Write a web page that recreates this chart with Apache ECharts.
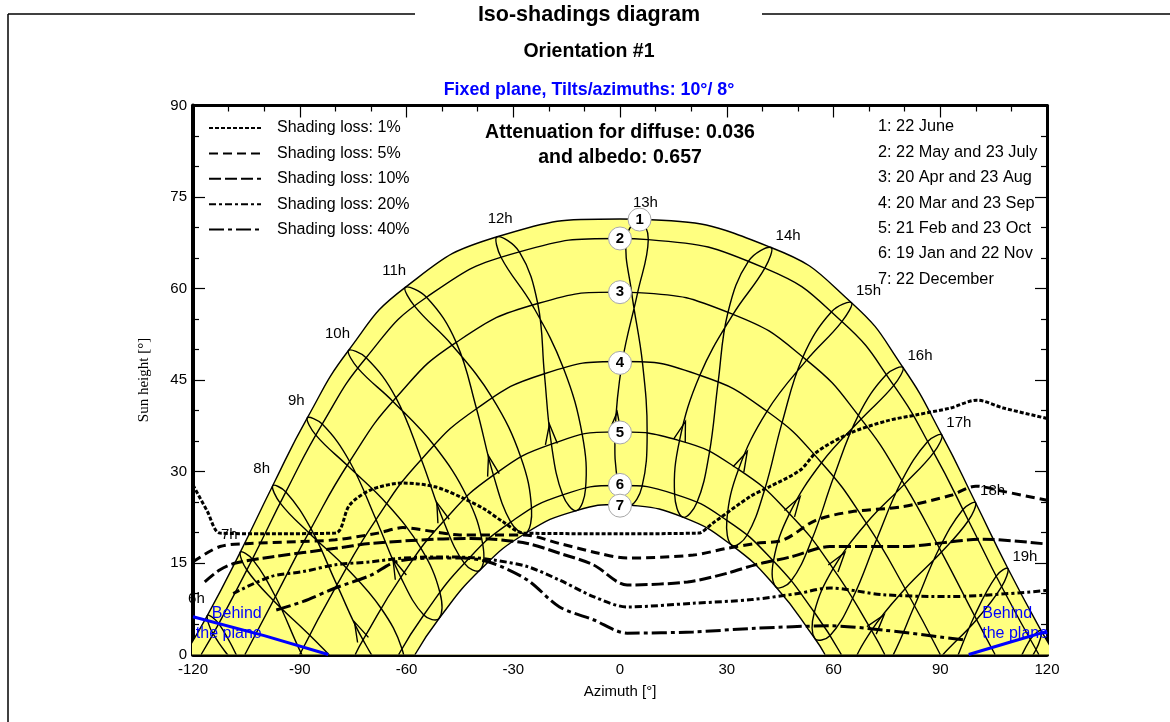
<!DOCTYPE html>
<html>
<head>
<meta charset="utf-8">
<title>Iso-shadings diagram</title>
<script src="https://cdn.jsdelivr.net/npm/echarts@6/dist/echarts.min.js"></script>
<style>
  html, body { margin: 0; padding: 0; background: #fff; }
  #chart { width: 1170px; height: 722px; }
</style>
</head>
<body>
<div id="chart"></div>
<script>
// ---- Sun positions [azimuth °, height °] at legal hours 6h .. 20h (null = far below horizon)
const hours = [6, 7, 8, 9, 10, 11, 12, 13, 14, 15, 16, 17, 18, 19, 20];
const hourLabels = ['6h', '7h', '8h', '9h', '10h', '11h', '12h', '13h', '14h', '15h', '16h', '17h', '18h', '19h'];

const jun22 = [[-115.94, 6.41], [-106.71, 16.78], [-97.61, 27.67], [-87.88, 38.79], [-76.31, 49.83], [-60.35, 60.18], [-34.52, 68.48], [5.46, 71.35], [42.45, 66.72], [65.06, 57.67], [79.53, 47.05], [90.46, 35.97], [99.94, 24.87], [109.01, 14.10], [118.37, 3.90]];
const may22 = [[-112.75, 5.05], [-103.32, 15.63], [-93.91, 26.65], [-83.69, 37.77], [-71.35, 48.65], [-54.37, 58.57], [-28.28, 66.00], [7.95, 68.02], [40.70, 63.34], [62.35, 54.58], [76.94, 44.11], [88.16, 33.09], [97.92, 21.97], [107.26, 11.11], [116.89, 0.78]];
const jul23 = [[-114.34, 3.37], [-104.85, 13.85], [-95.48, 24.82], [-85.47, 35.96], [-73.62, 46.91], [-57.68, 57.06], [-33.40, 65.08], [1.78, 68.20], [36.12, 64.48], [59.45, 56.18], [74.86, 45.89], [86.47, 34.92], [96.37, 23.78], [105.72, 12.86], [115.26, 2.42]];
const apr20 = [[-106.73, -1.40], [-96.84, 9.50], [-86.86, 20.63], [-75.98, 31.64], [-62.96, 42.08], [-46.03, 51.17], [-23.12, 57.54], [4.96, 59.32], [31.76, 55.76], [52.45, 48.26], [67.78, 38.59], [79.89, 27.89], [90.35, 16.79], [100.21, 5.71], [110.26, -5.03]];
const aug23 = [[-107.33, -2.03], [-97.41, 8.86], [-87.46, 19.97], [-76.66, 31.01], [-63.81, 41.49], [-47.18, 50.70], [-24.64, 57.28], [3.27, 59.37], [30.35, 56.10], [51.40, 48.78], [66.99, 39.19], [79.23, 28.53], [89.76, 17.45], [99.64, 6.35], [109.65, -4.42]];
const mar20 = [[-99.86, -10.78], [-89.71, 0.32], [-79.55, 11.41], [-68.56, 22.12], [-55.83, 31.98], [-40.32, 40.29], [-21.25, 46.03], [0.65, 48.03], [22.44, 45.78], [41.31, 39.87], [56.63, 31.44], [69.23, 21.52], [80.14, 10.78], [90.29, -0.32], null];
const sep23 = [[-97.24, -7.98], [-87.17, 3.14], [-76.87, 14.17], [-65.54, 24.72], [-52.21, 34.26], [-35.84, 42.03], [-15.89, 46.93], [6.31, 47.85], [27.56, 44.58], [45.51, 37.93], [60.03, 29.04], [72.11, 18.86], [82.76, 7.98], [92.83, -3.14], null];
const feb21 = [null, [-82.14, -8.48], [-72.22, 2.39], [-61.59, 12.64], [-49.58, 21.84], [-35.57, 29.40], [-19.28, 34.48], [-1.36, 36.49], [16.72, 35.07], [33.29, 30.34], [47.62, 23.09], [59.89, 14.09], [70.69, 3.96], [80.67, -6.84], null];
const oct23 = [null, [-77.29, -3.07], [-67.11, 7.54], [-55.88, 17.34], [-42.97, 25.83], [-27.85, 32.31], [-10.57, 35.92], [7.63, 36.18], [25.10, 33.03], [40.67, 27.06], [53.92, 18.84], [65.38, 9.22], [75.69, -1.30], [85.51, -12.29], null];
const jan19 = [null, [-74.86, -13.68], [-65.37, -3.20], [-55.15, 6.48], [-43.72, 14.95], [-30.71, 21.71], [-16.09, 26.16], [-0.39, 27.70], [15.34, 26.30], [30.02, 21.99], [43.12, 15.33], [54.61, 6.93], [64.89, -2.70], null, null];
const nov22 = [null, [-70.99, -9.27], [-61.28, 0.93], [-50.61, 10.17], [-38.56, 18.00], [-24.86, 23.89], [-9.69, 27.13], [6.17, 27.47], [21.59, 24.88], [35.65, 19.51], [48.06, 12.05], [58.99, 3.09], [68.89, -6.93], null, null];
const dec22 = [null, null, [-61.06, -3.33], [-50.85, 5.91], [-39.41, 13.81], [-26.50, 19.88], [-12.24, 23.59], [2.80, 24.51], [17.65, 22.52], [31.46, 17.88], [43.82, 11.07], [54.76, 2.62], [64.61, -7.00], null, null];

// ---- The seven sun paths: horizon azimuth and noon height
const pathDates = ['1: 22 June', '2: 22 May and 23 July', '3: 20 Apr and 23 Aug', '4: 20 Mar and 23 Sep', '5: 21 Feb and 23 Oct', '6: 19 Jan and 22 Nov', '7: 22 December'];
const pathRiseAz = [122.4, 117.7, 105.4, 90.0, 74.4, 62.2, 57.6];
const pathNoonH = [71.4, 68.2, 59.4, 48.0, 36.5, 27.7, 24.6];

// ---- Numbered path markers
const markerLabels = ['1', '2', '3', '4', '5', '6', '7'];
const markerAz = [5.5, 0, 0, 0, 0, 0, 0];
const markerH = [71.3, 68.2, 59.4, 47.8, 36.4, 27.8, 24.4];

// ---- Iso-shading curves [azimuth °, height °]
const isoNames = ['Shading loss: 1%', 'Shading loss: 5%', 'Shading loss: 10%', 'Shading loss: 20%', 'Shading loss: 40%'];
const iso1 = [[-120, 27.8], [-116, 23.5], [-112.4, 19.9], [-100, 19.8], [-80, 19.9], [-76, 24.5], [-70, 27.0], [-61, 28.1], [-52, 27.5], [-44, 25.6], [-38, 23.8], [-33, 21.8], [-27, 19.9], [0, 19.8], [22, 19.9], [26, 21.5], [36.6, 25.9], [42, 27.5], [50.6, 30.2], [55.3, 33.2], [64.7, 36.3], [75, 38.3], [83.4, 39.3], [92.8, 40.4], [100.3, 41.7], [107.8, 40.4], [120, 38.7]];
const iso5 = [[-120, 15.2], [-112.4, 17.7], [-104, 18.2], [-91, 18.5], [-80, 18.8], [-68, 19.9], [-61, 20.8], [-52, 20.1], [-45, 19.6], [-27, 19.6], [-17, 18.2], [-6, 16.6], [2, 15.8], [20.6, 16.3], [30, 17.4], [38, 18.2], [46, 18.8], [55, 22.0], [65, 23.4], [79, 24.2], [93, 26.1], [100, 27.6], [108, 26.7], [120, 25.3]];
const iso10 = [[-116.7, 11.9], [-112.4, 13.9], [-108, 15.0], [-98, 16.0], [-80, 17.4], [-70, 18.2], [-52, 18.9], [-42, 19.0], [-35.6, 18.9], [-26, 18.2], [-17, 16.6], [-7.5, 14.7], [2, 11.4], [19, 11.9], [30, 13.3], [38, 14.7], [48, 16.0], [59, 17.7], [79, 17.7], [102, 18.9], [120, 18.1]];
const iso20 = [[-108.7, 10.0], [-98, 12.8], [-89, 13.6], [-80, 14.7], [-70, 15.2], [-61, 15.8], [-51, 16.0], [-42, 15.9], [-35.6, 15.5], [-26, 14.4], [-17, 12.2], [-7.5, 9.5], [2, 7.8], [20.6, 8.4], [37, 9.0], [50, 10.0], [59, 10.9], [74, 9.8], [93, 9.5], [120, 10.5]];
const iso40 = [[-96.6, 7.3], [-89, 8.7], [-80, 10.9], [-70, 13.0], [-63, 15.2], [-52, 15.8], [-44, 15.8], [-36, 15.0], [-26, 12.2], [-17, 7.8], [-7.5, 5.7], [2, 3.5], [20.6, 3.7], [38, 4.3], [59, 4.7], [74, 4.0], [96.5, 2.4]];

// ---- Plane horizon (sun behind the collector plane)
const behindLeft = [[-120, 6.2], [-100, 3.1], [-82, 0]];
const behindRight = [[98, 0], [110, 2.1], [120, 3.8]];
const behindText = 'Behind\nthe plane';

// ---- Static texts
const titleText = 'Iso-shadings diagram';
const subtitleText = 'Orientation #1';
const planeText = 'Fixed plane, Tilts/azimuths: 10°/ 8°';
const attenuationText = ['Attenuation for diffuse: 0.036', 'and albedo: 0.657'];

// ======================================================================
const FONT = '"Liberation Sans", Arial, sans-serif';
const SERIF = '"Liberation Serif", "Times New Roman", serif';
const chart = echarts.init(document.getElementById('chart'));

const pathPoints = [jun22, may22, apr20, mar20, feb21, jan19, dec22];
// date order along each hour loop: June -> December -> June
const loopDates = [jun22, may22, apr20, mar20, feb21, jan19, dec22, nov22, oct23, sep23, aug23, jul23];

function pathCurve(k) {
  const pts = pathPoints[k].filter(p => p && p[1] >= 1.5).map(p => p.slice());
  if (!pts.some(p => Math.abs(p[0]) < 2)) pts.push([0, pathNoonH[k]]);
  pts.push([-pathRiseAz[k], 0], [pathRiseAz[k], 0]);
  pts.sort((a, b) => a[0] - b[0]);
  return pts;
}

function loopPoints(i) {
  const pts = loopDates.map(d => d[i]);
  const n = pts.length;
  if (pts.every(p => p)) return { closed: true, pts };
  const start = pts.findIndex((p, j) => p && !pts[(j - 1 + n) % n]);
  const run = [];
  for (let j = 0; j < n; j++) {
    const p = pts[(start + j) % n];
    if (!p) break;
    run.push(p);
  }
  return { closed: false, pts: run };
}

const LINE_W = 1.4;
const series = [];

// sun paths; the outer one carries the yellow band, the inner one masks it
pathPoints.forEach((d, k) => {
  const s = {
    type: 'line', data: pathCurve(k), smooth: 0.5,
    symbol: 'none', silent: true, z: 2,
    lineStyle: { color: '#000', width: LINE_W }
  };
  if (k === 0) s.areaStyle = { color: '#ffff80', opacity: 1 };
  if (k === 6) s.areaStyle = { color: '#ffffff', opacity: 1 };
  series.push(s);
});

// hour loops
series.push({
  type: 'custom', clip: true, silent: true, z: 3,
  data: hours.map(() => [0, 0]),
  renderItem(params, api) {
    const L = loopPoints(params.dataIndex);
    const pts = L.pts.map(p => api.coord(p));
    return {
      type: L.closed ? 'polygon' : 'polyline',
      shape: { points: pts, smooth: 0.4 },
      style: { fill: 'none', stroke: '#000', lineWidth: LINE_W }
    };
  }
});

// time-direction arrows (February -> March on each loop)
const arrowIdx = hours.map((h, i) => i).filter(i => feb21[i] && feb21[i][1] > 0 && mar20[i]);
series.push({
  type: 'custom', clip: true, silent: true, z: 3,
  data: arrowIdx.map(() => [0, 0]),
  renderItem(params, api) {
    const i = arrowIdx[params.dataIndex];
    const p0 = api.coord(feb21[i]);
    const p1 = api.coord(mar20[i]);
    let dx = p1[0] - p0[0], dy = p1[1] - p0[1];
    const len = Math.hypot(dx, dy);
    dx /= len; dy /= len;
    const tip = [p0[0] + dx * 20, p0[1] + dy * 20];
    const nx = -dy, ny = dx;
    const a = [p0[0] + nx * 6, p0[1] + ny * 6];
    const b = [p0[0] - nx * 6, p0[1] - ny * 6];
    return {
      type: 'polyline',
      shape: { points: [a, tip, b] },
      style: { fill: 'none', stroke: '#000', lineWidth: LINE_W }
    };
  }
});

// plane horizon lines
[behindLeft, behindRight].forEach(d => {
  series.push({
    type: 'line', data: d, symbol: 'none', silent: true, z: 4,
    lineStyle: { color: '#0000ff', width: 3 }
  });
});

// iso-shading curves
const isoData = [iso1, iso5, iso10, iso20, iso40];
const isoDash = [[4, 2], [9, 5], [12, 4], [7, 3, 3, 3], [15, 4, 4, 4]];
isoData.forEach((d, k) => {
  series.push({
    name: isoNames[k], type: 'line', data: d, smooth: 0.3, symbol: 'none', silent: true, z: 5,
    itemStyle: { color: '#000' },
    lineStyle: { color: '#000', width: 3, type: isoDash[k], cap: 'butt' }
  });
});

// numbered markers
series.push({
  type: 'scatter', silent: true, z: 6,
  data: markerAz.map((a, i) => [a, markerH[i]]),
  symbol: 'circle', symbolSize: 23,
  itemStyle: { color: '#fff', borderColor: '#a8a8a8', borderWidth: 1, opacity: 1 },
  label: {
    show: true, position: 'inside', formatter: p => markerLabels[p.dataIndex],
    color: '#000', fontFamily: FONT, fontWeight: 'bold', fontSize: 15
  }
});

// hour labels at the June end of each loop
function hourOffset(h) {
  if (h < 12) return [-11, -17];
  if (h === 12) return [3, -18];
  if (h === 13) return [6, -16];
  return [17, -12];
}
series.push({
  type: 'scatter', silent: true, z: 6, clip: false,
  symbolSize: 0, itemStyle: { color: '#000', opacity: 1 },
  data: hourLabels.map((t, i) => ({ value: jun22[i], label: { offset: hourOffset(hours[i]) } })),
  label: {
    show: true, position: 'inside', formatter: p => hourLabels[p.dataIndex],
    color: '#000', opacity: 1, fontFamily: FONT, fontSize: 15
  }
});

// "Behind the plane" captions
series.push({
  type: 'scatter', silent: true, z: 6, clip: false,
  symbolSize: 0, itemStyle: { color: '#0000ff', opacity: 1 },
  data: [
    { value: [-100.7, 5.0], label: { align: 'right' } },
    { value: [101.8, 5.0], label: { align: 'left' } }
  ],
  label: {
    show: true, position: 'inside', formatter: behindText, verticalAlign: 'middle',
    color: '#0000ff', opacity: 1, fontFamily: FONT, fontSize: 16, lineHeight: 20
  }
});

const tickStyle = { color: '#000', width: 1.2 };
function axis(extra) {
  return Object.assign({
    type: 'value',
    axisLine: { show: true, onZero: false, lineStyle: { color: '#000', width: 3 } },
    axisTick: { show: true, inside: true, length: 12, lineStyle: tickStyle },
    minorTick: { show: true, splitNumber: 3, length: 6, lineStyle: tickStyle },
    splitLine: { show: false },
    minorSplitLine: { show: false }
  }, extra);
}
const labelStyle = { color: '#000', fontFamily: FONT, fontSize: 15 };

const graphic = [
  { type: 'line', shape: { x1: 8, y1: 14, x2: 415, y2: 14 }, style: { stroke: '#000', lineWidth: 1.5 } },
  { type: 'line', shape: { x1: 762, y1: 14, x2: 1170, y2: 14 }, style: { stroke: '#000', lineWidth: 1.5 } },
  { type: 'line', shape: { x1: 8, y1: 14, x2: 8, y2: 722 }, style: { stroke: '#000', lineWidth: 1.5 } }
];
attenuationText.forEach((t, i) => {
  graphic.push({
    type: 'text', x: 620, y: 133 + i * 25, z: 10,
    style: { text: t, font: 'bold 19.5px ' + FONT, fill: '#000', align: 'center', verticalAlign: 'middle' }
  });
});
pathDates.forEach((t, i) => {
  graphic.push({
    type: 'text', x: 878, y: 127 + i * 25.4, z: 10,
    style: { text: t, font: '16.3px ' + FONT, fill: '#000', align: 'left', verticalAlign: 'middle' }
  });
});

chart.setOption({
  animation: false,
  backgroundColor: '#fff',
  title: [
    { text: titleText, left: 589, top: 4, textAlign: 'center', padding: 0,
      textStyle: { fontFamily: FONT, fontSize: 21.5, fontWeight: 'bold', color: '#000' } },
    { text: subtitleText, left: 589, top: 42, textAlign: 'center', padding: 0,
      textStyle: { fontFamily: FONT, fontSize: 19.5, fontWeight: 'bold', color: '#000' } },
    { text: planeText, left: 589, top: 81, textAlign: 'center', padding: 0,
      textStyle: { fontFamily: FONT, fontSize: 17.8, fontWeight: 'bold', color: '#0000ff' } }
  ],
  legend: {
    data: isoNames, orient: 'vertical', left: 208, top: 120, padding: 0,
    itemWidth: 52, itemHeight: 14, itemGap: 9.4, selectedMode: false,
    itemStyle: { opacity: 0 },
    textStyle: { fontFamily: FONT, fontSize: 16, color: '#000', padding: [0, 0, 0, 11] }
  },
  grid: { left: 193, right: 123, top: 105.5, bottom: 67.5, containLabel: false },
  xAxis: [
    axis({ min: -120, max: 120, interval: 30, position: 'bottom',
      axisLine: { show: true, onZero: false, lineStyle: { color: '#000', width: 4 } },
      axisLabel: Object.assign({ margin: 8 }, labelStyle),
      name: 'Azimuth [°]', nameLocation: 'middle', nameGap: 30,
      nameTextStyle: { fontFamily: FONT, fontSize: 15, color: '#000' } }),
    axis({ min: -120, max: 120, interval: 30, position: 'top', axisLabel: { show: false } })
  ],
  yAxis: [
    axis({ min: 0, max: 90, interval: 15, position: 'left',
      axisLine: { show: true, onZero: false, lineStyle: { color: '#000', width: 4 } },
      axisLabel: Object.assign({ margin: 6 }, labelStyle),
      name: 'Sun height [°]', nameLocation: 'middle', nameGap: 41, nameRotate: 90,
      nameTextStyle: { fontFamily: SERIF, fontSize: 15, color: '#000' } }),
    axis({ min: 0, max: 90, interval: 15, position: 'right', axisLabel: { show: false } })
  ],
  graphic,
  series
});
</script>
</body>
</html>
